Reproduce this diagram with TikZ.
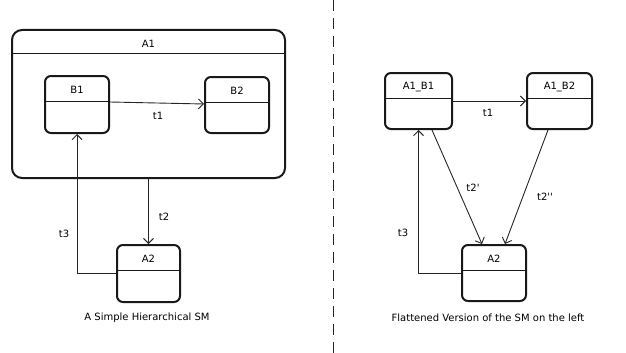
\documentclass[tikz,border=0pt]{standalone}
\usepackage{fontspec}
\setmainfont{DejaVu Sans}
\usetikzlibrary{arrows.meta,calc}

\tikzset{
  state/.style={draw=black!90, line width=2pt, rounded corners=6pt, inner sep=0pt},
  superstate/.style={state, rounded corners=10pt},
  hdr/.style={draw=black!90, line width=1pt},
  lbl/.style={font=\fontsize{10}{12}\selectfont, inner sep=1pt},
  trans/.style={draw=black!85, line width=0.9pt, -{Straight Barb[length=5pt,width=10pt,line width=0.9pt]}},
}

% name, x, y, width, height, header height, title
\newcommand{\umlstate}[8][state]{%
  \node[#1, minimum width=#5pt, minimum height=#6pt] (#2) at (#3,#4) {};
  \draw[hdr] ([yshift=-#7pt]#2.north west) -- ([yshift=-#7pt]#2.north east);
  \node[lbl] (#2-title) at ([yshift=-#7pt*0.58]#2.north) {#8};
}

\begin{document}
\begin{tikzpicture}[x=1pt, y=-1pt]
\useasboundingbox (0,0) rectangle (626,353);

% ---- hierarchical state machine ----
\umlstate[superstate]{a1}{148.5}{104}{273}{148}{25}{A1}
\umlstate{b1}{77}{104.5}{64}{57}{26}{B1}
\umlstate{b2}{237}{105}{64}{56}{26}{B2}
\umlstate{a2}{148.5}{273.5}{63}{57}{26}{A2}

\draw[trans] ([yshift=2.5pt]b1.east) -- ([yshift=1pt]b2.west);
\draw[trans] (a1.south) -- (a2.north);
\draw[trans] (a2.west) -| (b1.south);

\node[lbl] (l-t1) at (158,116) {t1};
\node[lbl] (l-t2) at (164,217) {t2};
\node[lbl] (l-t3) at (64,234) {t3};

% ---- separator ----
\coordinate (sep-top) at (333,0);
\coordinate (sep-bot) at (333,353);
\draw[line width=0.9pt, black!85, dash pattern=on 11pt off 7pt] (sep-top) -- (sep-bot);

% ---- flattened state machine ----
\umlstate{f1}{418.5}{101}{67}{56}{26}{A1\_B1}
\umlstate{f2}{559.5}{101}{65}{56}{26}{A1\_B2}
\umlstate{f3}{494}{273}{64}{56}{26}{A2}

\draw[trans] (f1.east) -- (f2.west);
\draw[trans] ([xshift=13.5pt]f1.south) -- ([xshift=-12pt]f3.north);
\draw[trans] ([xshift=-11.5pt]f2.south) -- ([xshift=11pt]f3.north);
\draw[trans] (f3.west) -| (f1.south);

\node[lbl] (m-t1) at (488,113) {t1};
\node[lbl] (m-t2a) at (473,188) {t2\textquotesingle};
\node[lbl] (m-t2b) at (545,197) {t2\textquotesingle\textquotesingle};
\node[lbl] (m-t3) at (403,233) {t3};

% ---- captions ----
\node[lbl] (cap-left) at (147,318) {A Simple Hierarchical SM};
\node[lbl] (cap-right) at (488,318) {Flattened Version of the SM on the left};
\end{tikzpicture}
\end{document}
